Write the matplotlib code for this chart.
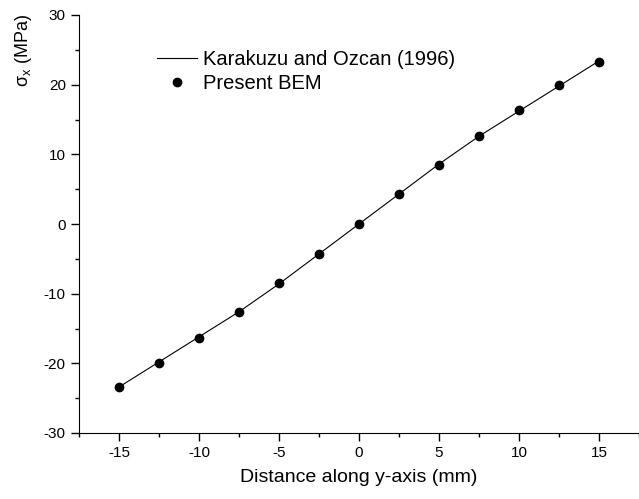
import matplotlib.pyplot as plt
from matplotlib.ticker import MultipleLocator

plt.rcParams['font.family'] = ['Liberation Sans', 'DejaVu Sans']
plt.rcParams['mathtext.fontset'] = 'custom'
plt.rcParams['mathtext.rm'] = 'Liberation Sans'
plt.rcParams['axes.unicode_minus'] = False

# distance along y-axis (mm) and sigma_x (MPa)
dist = [-15, -12.5, -10, -7.5, -5, -2.5, 0, 2.5, 5, 7.5, 10, 12.5, 15]
sigma_ref = [-23.4, -19.8, -16.2, -12.6, -8.6, -4.3, 0, 4.3, 8.6, 12.6, 16.2, 19.8, 23.4]
sigma_bem = [-23.4, -19.9, -16.4, -12.6, -8.5, -4.3, 0, 4.3, 8.5, 12.6, 16.3, 19.9, 23.3]

fig = plt.figure(figsize=(6.39, 4.99), dpi=100)
ax = fig.add_axes([79 / 639, 1 - 433 / 499, 560 / 639, 418 / 499])

ax.plot(dist, sigma_ref, color='black', lw=0.8, label='Karakuzu and Ozcan (1996)')
ax.plot(dist, sigma_bem, 'o', color='black', ms=6, label='Present BEM')

ax.set_xlim(-17.5, 17.5)
ax.set_ylim(-30, 30)
ax.xaxis.set_major_locator(MultipleLocator(5))
ax.xaxis.set_minor_locator(MultipleLocator(2.5))
ax.yaxis.set_major_locator(MultipleLocator(10))
ax.yaxis.set_minor_locator(MultipleLocator(5))
ax.tick_params(which='major', direction='out', length=6, width=1, labelsize=11)
ax.tick_params(which='minor', direction='out', length=3, width=1)
ax.spines['top'].set_visible(False)
ax.spines['right'].set_visible(False)

ax.set_xlabel('Distance along y-axis (mm)', fontsize=14, labelpad=6)
ax.set_ylabel('σ$_\\mathregular{x}$ (MPa)', fontsize=13, va='center')
ax.yaxis.set_label_coords(-0.1, 0.916)

ax.legend(loc='upper left', bbox_to_anchor=(0.125, 0.935), frameon=False,
          fontsize=14.5, handlelength=2.0, handletextpad=0.3, labelspacing=0.25,
          borderaxespad=0)

plt.savefig('out.png', dpi=100)
plt.close()
